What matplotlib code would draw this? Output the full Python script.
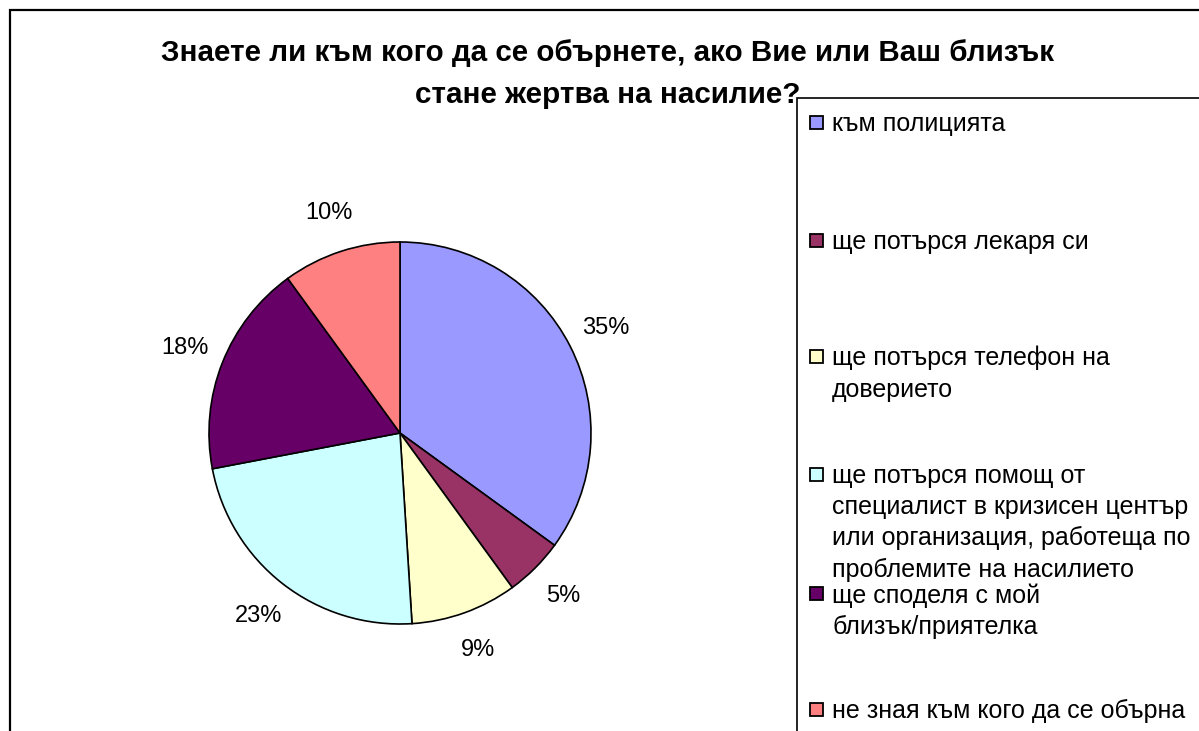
import matplotlib.pyplot as plt
from matplotlib.patches import Rectangle

# data
labels = [
    'към полицията',
    'ще потърся лекаря си',
    'ще потърся телефон на\nдоверието',
    'ще потърся помощ от\nспециалист в кризисен център\nили организация, работеща по\nпроблемите на насилието',
    'ще споделя с мой\nблизък/приятелка',
    'не зная към кого да се обърна',
]
shares = [35, 5, 9, 23, 18, 10]
colors = ['#9999FF', '#993366', '#FFFFCC', '#CCFFFF', '#660066', '#FF8080']
title = 'Знаете ли към кого да се обърнете, ако Вие или Ваш близък\nстане жертва на насилие?'

W, H = 1199, 731
plt.rcParams['font.family'] = ['Liberation Sans', 'DejaVu Sans']

fig = plt.figure(figsize=(W / 100, H / 100), dpi=100)

# outer chart border (cut off at right and bottom like the original)
fig.patches.append(Rectangle((10 / W, -0.05), 1.2, 1 - 10 / H + 0.05,
                             transform=fig.transFigure, fill=False,
                             edgecolor='black', linewidth=1.6))

# pie placement in pixels
cx, cy, r = 400, 433, 191
ax = fig.add_axes([(cx - r) / W, (H - cy - r) / H, 2 * r / W, 2 * r / H])
wedges, texts, autotexts = ax.pie(
    shares, colors=colors, startangle=90, counterclock=False,
    autopct='%1.0f%%', pctdistance=1.21,
    wedgeprops=dict(edgecolor='black', linewidth=1.2),
    textprops=dict(fontsize=17, color='black'))
ax.set_xlim(-1, 1)
ax.set_ylim(-1, 1)
ax.set_aspect('equal')

fig.text(608 / W, 1 - 74 / H, title, ha='center', va='center',
         fontsize=21.3, fontweight='bold', linespacing=1.6)

# legend box
fig.patches.append(Rectangle((797 / W, -0.05), 1.0, 1 - 98 / H + 0.05,
                             transform=fig.transFigure, fill=False,
                             edgecolor='black', linewidth=1.2))
entry_y = [122, 240, 356, 474, 593, 709]
for lab, col, y in zip(labels, colors, entry_y):
    fig.patches.append(Rectangle((810 / W, 1 - (y + 7) / H), 13 / W, 13 / H,
                                 transform=fig.transFigure, facecolor=col,
                                 edgecolor='black', linewidth=1.3))
    fig.text(832 / W, 1 - (y - 10) / H, lab, ha='left', va='top',
             fontsize=18, linespacing=1.38)

fig.savefig('out.png', dpi=100)
